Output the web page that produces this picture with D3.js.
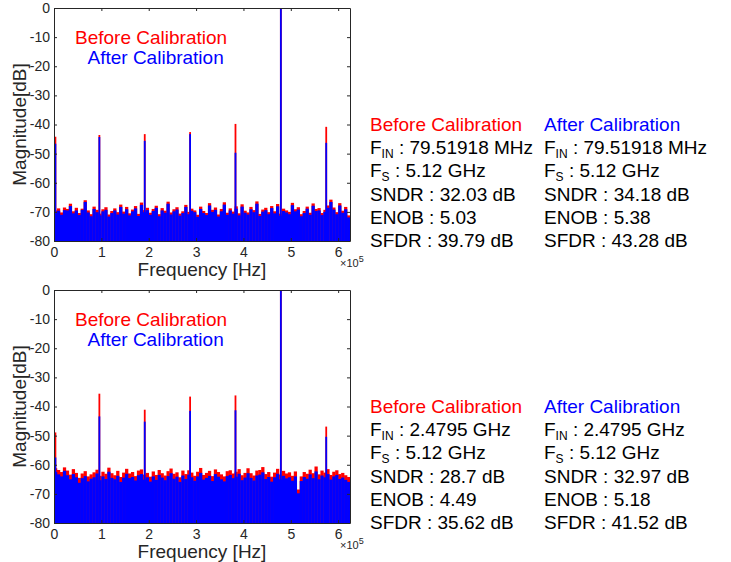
<!DOCTYPE html>
<html>
<head>
<meta charset="utf-8">
<script src="https://cdn.jsdelivr.net/npm/d3@7"></script>
<style>
  body { margin: 0; background: #fff; }
  svg { display: block; font-family: Arial, "Liberation Sans", sans-serif; }
</style>
</head>
<body>
<svg id="chart" width="731" height="562"></svg>
<script>
// x in units of 1e5 Hz
const xTicks = [0, 1, 2, 3, 4, 5, 6];
const yTicks = [0, -10, -20, -30, -40, -50, -60, -70, -80];

// spur (DC + harmonics + fundamental) positions
const spurFreq = [0.03, 0.958, 1.916, 2.874, 3.832, 4.79, 5.748];

// top panel (Fin = 79.51918 MHz)
const topBeforeSpur = [-44.2, -43.6, -43.3, -42.6, -39.8, 0, -40.8];
const topAfterSpur  = [-46.6, -44.3, -45.6, -43.3, -49.7, 0, -46.3];

// bottom panel (Fin = 2.4795 GHz)
const botBeforeSpur = [-48.9, -35.6, -41.1, -36.6, -36.2, 0, -46.9];
const botAfterSpur  = [-57.5, -43.4, -45.2, -41.5, -41.3, 0, -50.4];

// noise floor, read bin by bin across the band
const topBeforeNoise = [
  -69.5,-68.8,-70.2,-68.5,-69.0,-67.2,-69.8,-68.6,-70.4,-68.9,
  -66.0,-69.5,-70.8,-68.2,-69.3,-70.6,-69.1,-68.4,-70.9,-69.7,
  -68.8,-70.1,-67.5,-69.9,-68.3,-70.5,-69.2,-68.0,-70.7,-66.8,
  -69.4,-68.6,-70.3,-69.0,-67.9,-70.8,-68.7,-69.6,-66.5,-70.2,
  -69.1,-68.4,-70.6,-69.8,-67.6,-70.0,-68.9,-69.5,-71.0,-68.2,
  -69.7,-70.4,-67.0,-69.3,-68.5,-70.9,-69.0,-66.7,-70.3,-68.8,
  -69.9,-68.1,-70.5,-67.4,-69.6,-70.2,-68.3,-69.4,-66.4,-70.7,
  -69.2,-68.6,-70.1,-68.0,-69.8,-67.3,-70.6,-68.9,-69.5,-70.0,
  -66.9,-69.1,-68.4,-70.8,-69.7,-68.2,-70.3,-67.1,-69.0,-68.7,
  -70.4,-69.3,-67.8,-65.8,-68.5,-70.1,-67.0,-69.6,-68.3,-71.2
];
const topAfterNoise = [
  -70.3,-69.6,-71.0,-69.4,-69.5,-68.0,-70.5,-69.5,-71.1,-69.3,
  -66.6,-70.2,-71.5,-69.0,-70.1,-71.2,-69.8,-69.3,-71.6,-70.4,
  -69.5,-70.9,-68.3,-70.6,-69.1,-71.2,-69.8,-68.8,-71.4,-67.6,
  -70.1,-69.4,-71.0,-69.7,-68.6,-71.5,-69.5,-70.3,-67.2,-70.9,
  -69.8,-69.2,-71.3,-70.4,-68.3,-70.8,-69.6,-70.1,-71.7,-69.0,
  -70.4,-71.1,-67.8,-70.0,-69.3,-71.6,-69.8,-67.5,-71.0,-69.5,
  -70.6,-68.9,-71.2,-68.2,-70.3,-70.9,-69.1,-70.1,-67.2,-71.4,
  -69.9,-69.4,-70.8,-68.7,-70.5,-68.1,-71.3,-69.7,-70.2,-70.8,
  -67.7,-69.8,-69.2,-71.5,-70.4,-68.9,-71.0,-67.9,-69.7,-69.5,
  -71.1,-70.0,-68.6,-66.6,-69.2,-70.8,-67.8,-70.3,-69.1,-71.9
];
const botBeforeNoise = [
  -61.2,-61.8,-62.5,-60.9,-62.0,-63.4,-61.5,-62.8,-64.5,-63.0,
  -62.2,-64.0,-63.3,-62.6,-61.7,-63.8,-62.4,-63.1,-61.0,-62.9,
  -63.6,-62.1,-64.2,-62.7,-61.4,-63.0,-62.5,-63.9,-62.0,-61.6,
  -63.4,-62.8,-64.1,-62.3,-63.5,-61.8,-62.9,-63.7,-62.2,-61.3,
  -63.1,-62.6,-64.3,-62.0,-63.2,-61.9,-62.7,-63.8,-62.4,-61.1,
  -63.5,-62.8,-62.1,-63.9,-61.6,-62.5,-63.3,-64.0,-62.2,-61.9,
  -63.0,-62.4,-61.5,-63.6,-62.8,-61.2,-62.9,-63.7,-62.0,-61.8,
  -60.8,-63.2,-62.5,-64.1,-62.7,-61.4,-63.4,-62.1,-63.0,-62.6,
  -63.8,-62.3,-68.5,-64.0,-62.5,-63.1,-61.7,-62.9,-60.6,-63.3,
  -62.0,-62.7,-61.5,-63.5,-62.4,-61.9,-63.2,-62.8,-63.6,-64.2
];
const botAfterNoise = [
  -62.5,-63.3,-64.0,-62.1,-63.6,-65.0,-63.2,-64.3,-66.2,-64.6,
  -63.9,-65.7,-64.8,-64.3,-63.0,-65.3,-64.0,-64.9,-62.4,-64.5,
  -65.0,-63.8,-65.9,-64.4,-63.1,-64.6,-64.2,-65.4,-63.6,-63.2,
  -65.1,-64.3,-65.8,-64.0,-65.2,-63.5,-64.4,-65.3,-63.9,-62.9,
  -64.8,-64.1,-65.9,-63.7,-64.9,-63.4,-64.3,-65.5,-64.0,-62.8,
  -65.1,-64.5,-63.8,-65.6,-63.2,-64.1,-65.0,-65.7,-63.9,-63.5,
  -64.6,-64.1,-63.1,-65.3,-64.4,-62.9,-64.5,-65.4,-63.7,-63.4,
  -62.6,-64.9,-64.2,-65.8,-64.3,-63.1,-65.0,-63.8,-64.7,-64.3,
  -65.5,-64.0,-69.8,-65.6,-64.2,-64.8,-63.3,-64.6,-62.3,-65.0,
  -63.7,-64.3,-63.2,-65.1,-64.0,-63.5,-64.9,-64.4,-65.2,-65.9
];

// text blocks
const statNames = ["SNDR", "ENOB", "SFDR"];
const statUnits = [" dB", "", " dB"];
const topBeforeStats = ["32.03", "5.03", "39.79"];
const topAfterStats  = ["34.18", "5.38", "43.28"];
const botBeforeStats = ["28.7", "4.49", "35.62"];
const botAfterStats  = ["32.97", "5.18", "41.52"];
const topFin = "79.51918 MHz";
const botFin = "2.4795 GHz";
const fsText = "5.12 GHz";

const RED = "#ff0000", BLUE = "#0000ff", AX = "#262626";
const svg = d3.select("#chart");
const left = 54, right = 350;

function drawPanel(top, bottom, beforeNoise, afterNoise, beforeSpur, afterSpur, id) {
  const x = d3.scaleLinear().domain([0, 6.25]).range([left, right]);
  const y = d3.scaleLinear().domain([-80, 0]).range([bottom, top]);
  const xb = d3.scaleBand().domain(d3.range(beforeNoise.length)).range([left, right]);

  svg.append("clipPath").attr("id", "clip" + id)
    .append("rect").attr("x", left).attr("y", top)
    .attr("width", right - left).attr("height", bottom - top);

  const g = svg.append("g").attr("clip-path", `url(#clip${id})`);

  const series = [
    { noise: beforeNoise, spur: beforeSpur, color: RED },
    { noise: afterNoise, spur: afterSpur, color: BLUE }
  ];
  series.forEach(s => {
    g.selectAll(null).data(s.noise).enter().append("rect")
      .attr("x", (d, i) => xb(i))
      .attr("width", xb.bandwidth() + 0.3)
      .attr("y", d => y(d))
      .attr("height", d => y(-80) - y(d))
      .attr("fill", s.color);
    g.selectAll(null).data(s.spur).enter().append("line")
      .attr("x1", (d, i) => x(spurFreq[i]))
      .attr("x2", (d, i) => x(spurFreq[i]))
      .attr("y1", y(-80))
      .attr("y2", d => y(d))
      .attr("stroke", s.color)
      .attr("stroke-width", 1.8);
  });

  // axes (box with inward ticks)
  const ax = svg.append("g").attr("color", AX);
  ax.append("g").attr("transform", `translate(0,${bottom})`)
    .call(d3.axisBottom(x).tickValues(xTicks).tickFormat(d => String(d))
      .tickSizeInner(-3).tickSizeOuter(0).tickPadding(6));
  ax.append("g").attr("transform", `translate(0,${top})`)
    .call(d3.axisTop(x).tickValues(xTicks).tickFormat("")
      .tickSizeInner(-3).tickSizeOuter(0));
  ax.append("g").attr("transform", `translate(${left},0)`)
    .call(d3.axisLeft(y).tickValues(yTicks).tickFormat(d => String(d))
      .tickSizeInner(-3).tickSizeOuter(0).tickPadding(4));
  ax.append("g").attr("transform", `translate(${right},0)`)
    .call(d3.axisRight(y).tickValues(yTicks).tickFormat("")
      .tickSizeInner(-3).tickSizeOuter(0));
  ax.selectAll("text").attr("fill", AX)
    .style("font-size", "14px")
    .style("font-family", "Arial, 'Liberation Sans', sans-serif");

  // axis titles
  svg.append("text")
    .attr("transform", `translate(26,${(top + bottom) / 2}) rotate(-90)`)
    .attr("text-anchor", "middle").attr("font-size", 19).attr("fill", AX)
    .text("Magnitude[dB]");
  svg.append("text")
    .attr("x", (left + right) / 2).attr("y", bottom + 35)
    .attr("text-anchor", "middle").attr("font-size", 19).attr("fill", AX)
    .text("Frequency [Hz]");
  const ex = svg.append("text").attr("x", 340).attr("y", bottom + 26)
    .attr("font-size", 11).attr("fill", AX);
  ex.append("tspan").text("\u00d710");
  ex.append("tspan").attr("dy", -5).attr("font-size", 9).text("5");

  // in-plot legend text
  svg.append("text").attr("x", 75).attr("y", top + 36)
    .attr("font-size", 19).attr("fill", RED).text("Before Calibration");
  svg.append("text").attr("x", 87.5).attr("y", top + 56)
    .attr("font-size", 19).attr("fill", BLUE).text("After Calibration");
}

function drawStats(x0, y0, title, color, fin, stats) {
  const step = 23.2;
  const t = svg.append("g").attr("font-size", 19).attr("fill", "#000");
  t.append("text").attr("x", x0).attr("y", y0).attr("fill", color).text(title);
  const subRow = (row, sub, rest) => {
    const tx = t.append("text").attr("x", x0).attr("y", y0 + step * row);
    tx.append("tspan").text("F");
    tx.append("tspan").attr("font-size", 12).attr("dy", 4).text(sub);
    tx.append("tspan").attr("dy", -4).text(" : " + rest);
  };
  subRow(1, "IN", fin);
  subRow(2, "S", fsText);
  statNames.forEach((n, i) => {
    t.append("text").attr("x", x0).attr("y", y0 + step * (3 + i))
      .text(`${n} : ${stats[i]}${statUnits[i]}`);
  });
}

drawPanel(8, 241, topBeforeNoise, topAfterNoise, topBeforeSpur, topAfterSpur, 1);
drawPanel(290, 523, botBeforeNoise, botAfterNoise, botBeforeSpur, botAfterSpur, 2);

drawStats(370, 131, "Before Calibration", RED, topFin, topBeforeStats);
drawStats(544, 131, "After Calibration", BLUE, topFin, topAfterStats);
drawStats(370, 413, "Before Calibration", RED, botFin, botBeforeStats);
drawStats(544, 413, "After Calibration", BLUE, botFin, botAfterStats);
</script>
</body>
</html>
